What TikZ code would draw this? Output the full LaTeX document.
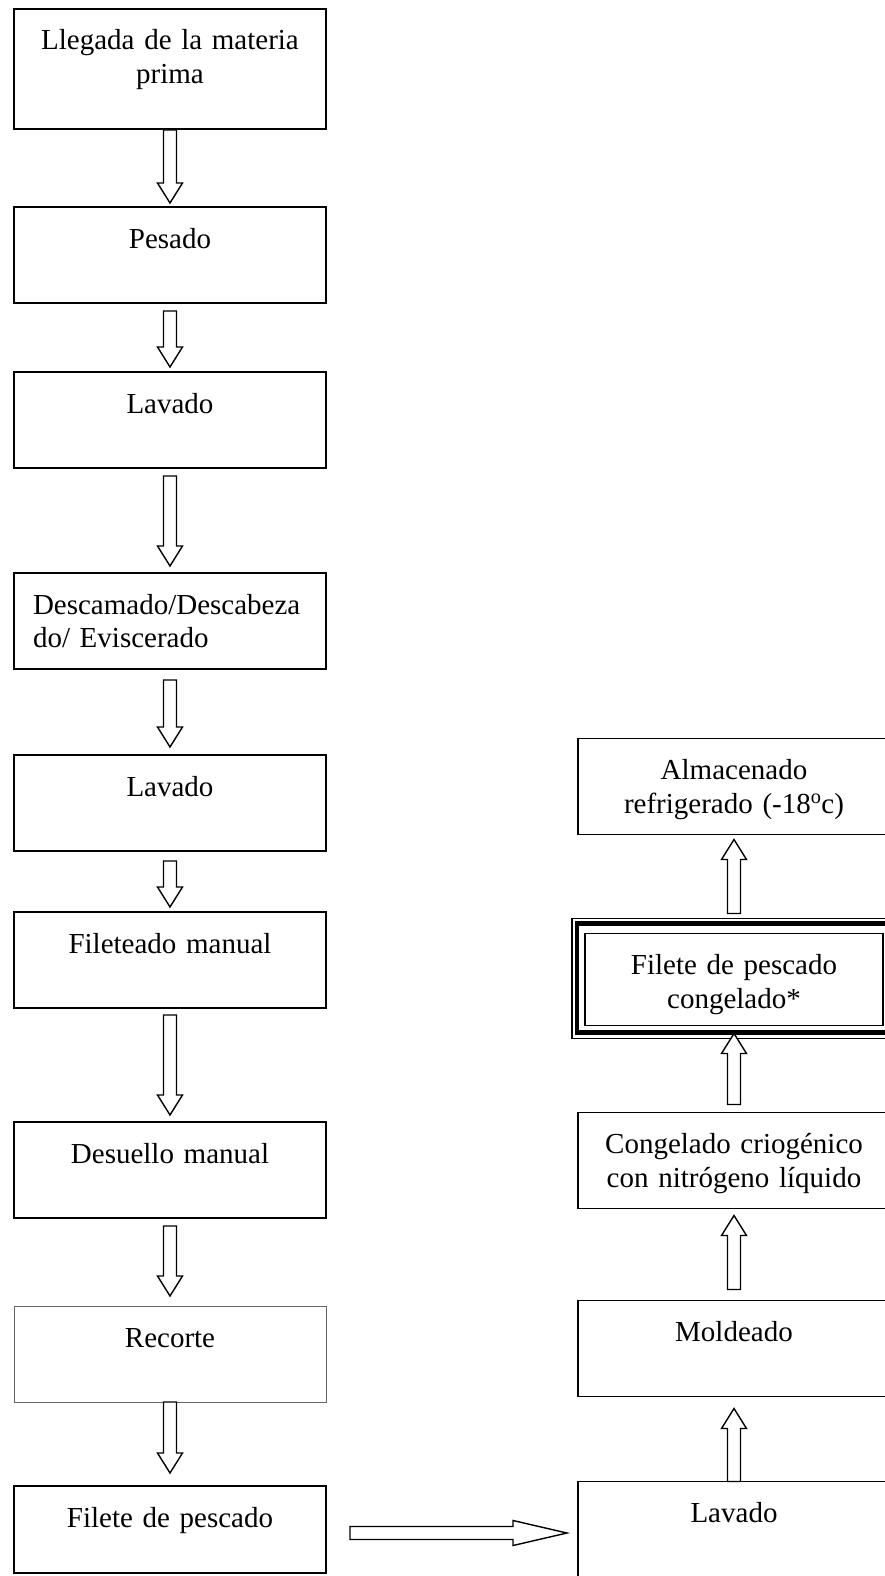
\documentclass[tikz,border=0pt]{standalone}
\usepackage{fontspec}
\setmainfont{Liberation Serif}
\usetikzlibrary{positioning, calc}

\begin{document}
\begin{tikzpicture}[
    block/.style={rectangle, draw, line width=1.6pt, text width=296pt, inner xsep=8pt, inner ysep=0pt, outer sep=0pt, align=center, text height=41pt, text depth=55pt, font=\fontsize{29}{33.5}\selectfont, text=black},
    bigarrow/.style={draw, line width=1.4pt, fill=white, to path={let \p1=(\tikztostart), \p2=(\tikztotarget), \n1={atan2(\y2-\y1,\x2-\x1)}, \n2={veclen(\x2-\x1,\y2-\y1)} in [shift={(\p1)}, rotate={\n1}] (0pt,-6.5pt) -- ({\n2-#1},-6.5pt) -- ({\n2-#1},-12.5pt) -- ({\n2-0pt},0pt) -- ({\n2-#1},12.5pt) -- ({\n2-#1},6.5pt) -- (0pt,6.5pt) -- cycle}},
    bigarrow/.default=20pt
]
\useasboundingbox (0,0) rectangle (885pt,-1576pt);

\node[block, anchor=north, text depth=79pt] (arrival) at (170pt,-9pt) {Llegada de la materia\\prima};
\node[block, below=78pt of arrival] (weigh) {Pesado};
\node[block, below=69pt of weigh] (wash) {Lavado};
\node[block, below=105pt of wash, align=left, inner xsep=19pt, text width=274pt] (scale) {Descamado/Descabeza\\do/ Eviscerado};
\node[block, below=86pt of scale] (rinse) {Lavado};
\node[block, below=61pt of rinse] (fillet) {Fileteado manual};
\node[block, below=114pt of fillet] (skin) {Desuello manual};
\node[block, below=88pt of skin, draw=black!60, line width=1pt] (trim) {Recorte};
\node[block, below=84pt of trim, text depth=46pt] (fish) {Filete de pescado};

\node[block, right=252pt of fish] (clean) {Lavado};
\node[block, above=85pt of clean] (mould) {Moldeado};
\node[block, above=92pt of mould] (freeze) {Congelado criogénico\\con nitrógeno líquido};
\node[block, above=87pt of freeze, text width=282pt, text depth=51pt] (frozen) {Filete de pescado\\congelado*};
\node[block, above=99pt of frozen] (store) {Almacenado\\refrigerado (-18\textsuperscript{o}c)};

\draw[line width=4.5pt] ([shift={(-8pt,10pt)}]frozen.north west) rectangle ([shift={(8pt,-7pt)}]frozen.south east);
\draw[line width=1.3pt] ([shift={(-13pt,15pt)}]frozen.north west) rectangle ([shift={(13pt,-13pt)}]frozen.south east);

\draw[bigarrow] ([yshift=-1pt]arrival.south) to ([yshift=4pt]weigh.north);
\draw[bigarrow] ([yshift=-8pt]weigh.south) to ([yshift=5pt]wash.north);
\draw[bigarrow] ([yshift=-8pt]wash.south) to ([yshift=7pt]scale.north);
\draw[bigarrow] ([yshift=-11pt]scale.south) to ([yshift=8pt]rinse.north);
\draw[bigarrow] ([yshift=-10pt]rinse.south) to ([yshift=5pt]fillet.north);
\draw[bigarrow] ([yshift=-7pt]fillet.south) to ([yshift=7pt]skin.north);
\draw[bigarrow] ([yshift=-8pt]skin.south) to ([yshift=10pt]trim.north);
\draw[bigarrow] (trim.south) to ([yshift=13pt]fish.north);
\draw[bigarrow=54pt] ([shift={(24pt,-3.5pt)}]fish.east) to ([shift={(-11pt,-3.5pt)}]clean.west);
\draw[bigarrow] (clean.north) to ([yshift=-12pt]mould.south);
\draw[bigarrow] ([yshift=11pt]mould.north) to ([yshift=-7pt]freeze.south);
\draw[bigarrow] ([yshift=8pt]freeze.north) to ([yshift=-8pt]frozen.south);
\draw[bigarrow] ([yshift=20pt]frozen.north) to ([yshift=-5pt]store.south);
\end{tikzpicture}
\end{document}
